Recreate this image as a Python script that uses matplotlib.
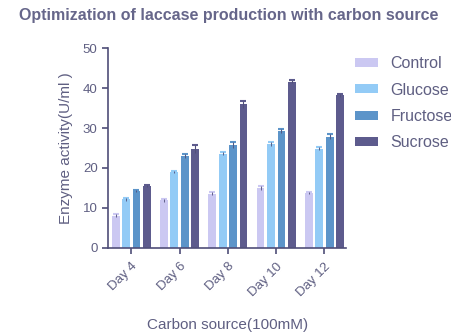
import numpy as np
import matplotlib
matplotlib.use("Agg")
from matplotlib import pyplot as plt

plt.rcParams["font.family"] = ["Liberation Sans", "DejaVu Sans"]

days = ["Day 4", "Day 6", "Day 8", "Day 10", "Day 12"]
sources = ["Control", "Glucose", "Fructose", "Sucrose"]
control = [8.1, 11.9, 13.6, 15.1, 13.7]
glucose = [12.2, 19.0, 23.6, 26.0, 24.8]
fructose = [14.3, 23.0, 25.7, 29.2, 27.8]
sucrose = [15.5, 24.7, 35.9, 41.6, 38.2]
control_err = [0.3, 0.3, 0.4, 0.5, 0.3]
glucose_err = [0.4, 0.3, 0.3, 0.5, 0.4]
fructose_err = [0.3, 0.4, 0.7, 0.5, 0.6]
sucrose_err = [0.3, 1.0, 0.9, 0.3, 0.4]

colors = ["#cbc8f2", "#93cbf6", "#5c94c9", "#5d5b8d"]
txt = "#5f5f82"
axc = "#4f4e78"

fig = plt.figure(figsize=(4.52, 3.36), dpi=100)
ax = fig.add_axes([0.239, 0.262, 0.527, 0.595])

x = np.arange(len(days))
step = 0.215
width = 0.16
series = [control, glucose, fructose, sucrose]
errs = [control_err, glucose_err, fructose_err, sucrose_err]
for i, (vals, err) in enumerate(zip(series, errs)):
    ax.bar(x + (i - 1.5) * step, vals, width, yerr=err, color=colors[i],
           label=sources[i], error_kw=dict(ecolor=colors[i], elinewidth=0.8,
                                          capsize=2.5, capthick=1.5))
    ax.errorbar(x + (i - 1.5) * step, vals, yerr=err, fmt="none",
                ecolor=axc, elinewidth=0.6, capsize=0)

ax.set_xlim(-0.48, 4.45)
ax.set_ylim(0, 50)
ax.set_yticks([0, 10, 20, 30, 40, 50])
ax.set_xticks(x)
ax.set_xticklabels(days, rotation=45, ha="right", rotation_mode="anchor")
for s in ["top", "right"]:
    ax.spines[s].set_visible(False)
for s in ["left", "bottom"]:
    ax.spines[s].set_color(axc)
    ax.spines[s].set_linewidth(1.2)
ax.tick_params(colors=axc, labelcolor=txt, labelsize=9.5, length=4, width=1.2)
ax.tick_params(axis="x", pad=5)

ax.set_ylabel("Enzyme activity(U/ml )", color=txt, fontsize=11, labelpad=7)
ax.set_xlabel("Carbon source(100mM)", color=txt, fontsize=11, labelpad=14)
fig.suptitle("Optimization of laccase production with carbon source",
             x=0.507, y=0.975, color="#66668a", fontsize=11.5, fontweight="bold")

ax.legend(loc="upper left", bbox_to_anchor=(0.975, 1.03), frameon=False,
          fontsize=11.5, labelcolor=txt, handlelength=1.45, handleheight=0.5,
          labelspacing=0.7, handletextpad=0.8)

plt.savefig("out.png")
